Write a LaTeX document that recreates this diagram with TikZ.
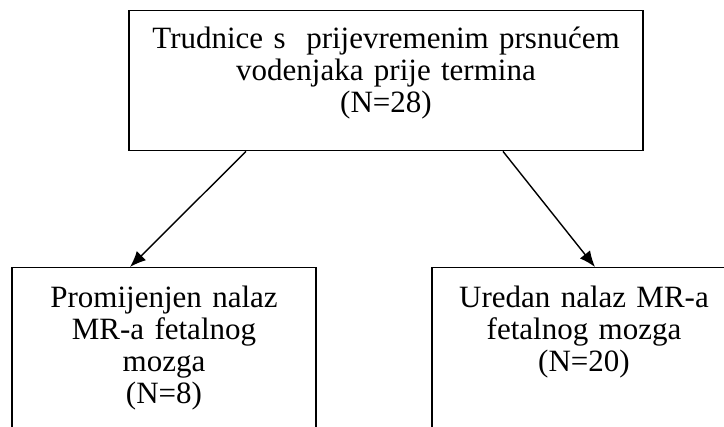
\documentclass[tikz,border=0pt]{standalone}
\usepackage{fontspec}
\setmainfont{Liberation Serif}
\usetikzlibrary{arrows.meta}
\tikzstyle{box}=[draw, line width=1.4pt, anchor=north, inner xsep=0pt, inner ysep=0pt, align=center, font=\fontsize{31pt}{32pt}\selectfont]
\tikzstyle{rootbox}=[box, text width=514pt, text height=38pt, text depth=102pt]
\tikzstyle{leafbox}=[box, text width=304pt, text height=40pt, text depth=140pt]
\tikzstyle{edge} = [draw, line width=1.4pt, -{Latex[length=16pt,width=13pt]}]

\begin{document}
\begin{tikzpicture}[x=1pt, y=1pt]

    \useasboundingbox (0,0) rectangle (724,-427);

    \node[rootbox] (root) at (386,-10) {Trudnice s\ \ prijevremenim prsnućem\\vodenjaka prije termina\\(N=28)};

    \foreach \x/\name/\txt in {164/changed/{Promijenjen nalaz\\MR-a fetalnog\\mozga\\(N=8)}, 584/normal/{Uredan nalaz MR-a\\fetalnog mozga\\(N=20)}}
        \node[leafbox] (\name) at (\x,-267) {\txt};

    \path[edge] ([xshift=-140pt]root.south) -- ([xshift=-34pt]changed.north);
    \path[edge] ([xshift=117pt]root.south) -- ([xshift=11pt]normal.north);

\end{tikzpicture}
\end{document}
